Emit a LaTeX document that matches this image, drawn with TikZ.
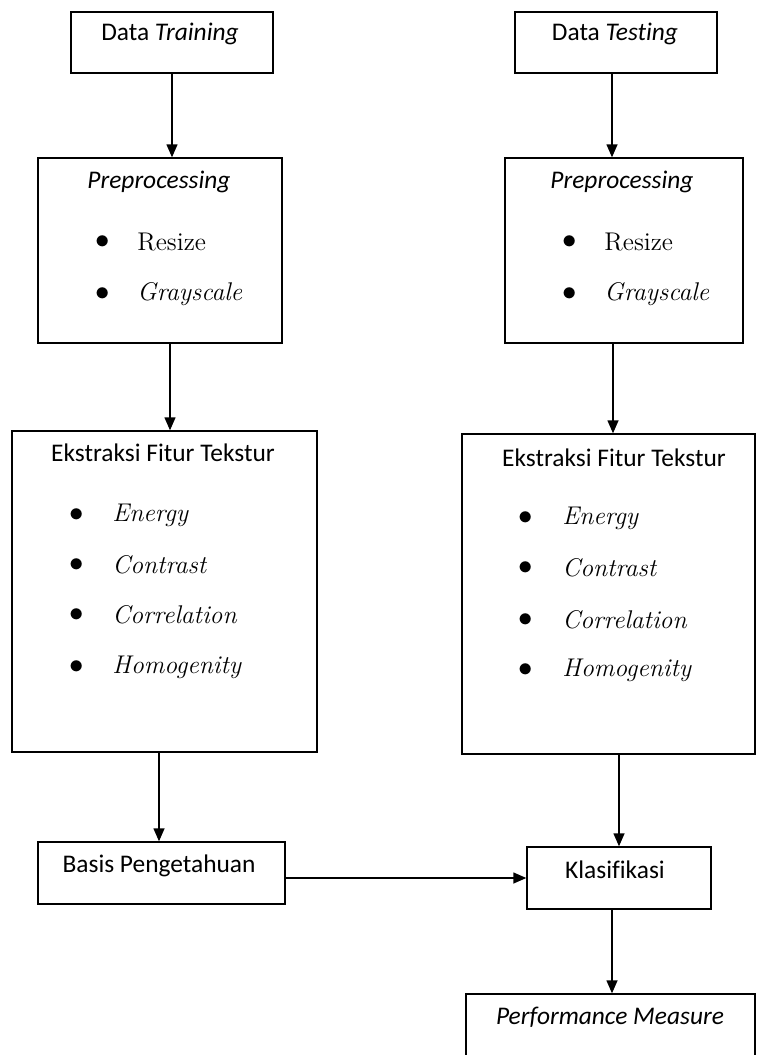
\documentclass[tikz,border=0pt]{standalone}
\usepackage{fontspec}
\newfontfamily\calibri[Ligatures=NoCommon]{Carlito}
\usetikzlibrary{arrows.meta}

\tikzset{
  kotak/.style={draw, rectangle, line width=0.7pt, inner sep=0pt},
  panah/.style={-{Triangle[width=5.5pt,length=6.5pt]}, line width=0.7pt},
  judul/.style={font=\calibri\fontsize{12.7}{15}\selectfont, inner sep=0pt},
  butir/.style={font=\fontsize{12.8}{15}\selectfont, anchor=west, inner sep=0pt},
  titik/.style={font=\fontsize{15}{15}\selectfont, inner sep=0pt}
}

\begin{document}
\begin{tikzpicture}[x=0.5pt, y=-0.5pt]
    \useasboundingbox (0,0) rectangle (756,1055);
    \clip (0,0) rectangle (756,1055);

    % kotak-kotak
    \node[kotak, minimum width=101pt, minimum height=30.5pt] (train) at (172,42.5) {};
    \node[kotak, minimum width=101pt, minimum height=30.5pt] (test) at (616,42.5) {};
    \node[kotak, minimum width=122pt, minimum height=92.5pt] (preL) at (160,250.5) {};
    \node[kotak, minimum width=119pt, minimum height=92.5pt] (preR) at (624,250.5) {};
    \node[kotak, minimum width=152.5pt, minimum height=160.5pt] (extL) at (164.5,591.5) {};
    \node[kotak, minimum width=146.5pt, minimum height=160pt] (extR) at (608.5,594) {};
    \node[kotak, minimum width=123.5pt, minimum height=31pt] (basis) at (161.5,873) {};
    \node[kotak, minimum width=92pt, minimum height=31pt] (klas) at (619,878) {};
    \node[kotak, minimum width=144.5pt, minimum height=48pt] (perf) at (610.5,1042) {};

    % teks
    \node[judul] (tTrain) at (170,34) {Data \textit{Training}};
    \node[judul] (tTest) at (615,34) {Data \textit{Testing}};
    \node[judul] (tPreL) at (159,182) {\textit{Preprocessing}};
    \node[judul] (tPreR) at (622,182) {\textit{Preprocessing}};
    \node[titik] (bPreL1) at (103,242) {$\bullet$};
    \node[butir] (iPreL1) at (137,242) {Resize};
    \node[titik] (bPreL2) at (103,294) {$\bullet$};
    \node[butir] (iPreL2) at (137,294) {\textit{Grayscale}};
    \node[titik] (bPreR1) at (570,242) {$\bullet$};
    \node[butir] (iPreR1) at (604,242) {Resize};
    \node[titik] (bPreR2) at (570,294) {$\bullet$};
    \node[butir] (iPreR2) at (604,294) {\textit{Grayscale}};

    \node[judul] (tExtL) at (163,453) {Ekstraksi Fitur Tekstur};
    \node[titik] (bExtL1) at (77,515) {$\bullet$};
    \node[butir] (iExtL1) at (112,515) {\textit{Energy}};
    \node[titik] (bExtL2) at (77,565) {$\bullet$};
    \node[butir] (iExtL2) at (112,565) {\textit{Contrast}};
    \node[titik] (bExtL3) at (77,615) {$\bullet$};
    \node[butir] (iExtL3) at (112,615) {\textit{Correlation}};
    \node[titik] (bExtL4) at (77,667) {$\bullet$};
    \node[butir] (iExtL4) at (112,667) {\textit{Homogenity}};

    \node[judul] (tExtR) at (614,458) {Ekstraksi Fitur Tekstur};
    \node[titik] (bExtR1) at (526,518) {$\bullet$};
    \node[butir] (iExtR1) at (562,518) {\textit{Energy}};
    \node[titik] (bExtR2) at (526,568) {$\bullet$};
    \node[butir] (iExtR2) at (562,568) {\textit{Contrast}};
    \node[titik] (bExtR3) at (526,620) {$\bullet$};
    \node[butir] (iExtR3) at (562,620) {\textit{Correlation}};
    \node[titik] (bExtR4) at (526,670) {$\bullet$};
    \node[butir] (iExtR4) at (562,670) {\textit{Homogenity}};

    \node[judul] (tBasis) at (159,866) {Basis Pengetahuan};
    \node[judul] (tKlas) at (615,870) {Klasifikasi};
    \node[judul] (tPerf) at (610,1017) {\textit{Performance Measure}};

    % panah
    \draw[panah] (train.south) -- (train.south |- preL.north);
    \draw[panah] ([xshift=-2pt]test.south) -- ([xshift=-2pt]test.south |- preR.north);
    \draw[panah] ([xshift=5pt]preL.south) -- ([xshift=5pt]preL.south |- extL.north);
    \draw[panah] ([xshift=-5.5pt]preR.south) -- ([xshift=-5.5pt]preR.south |- extR.north);
    \draw[panah] ([xshift=-1.25pt]extL.south -| basis.north) -- ([xshift=-1.25pt]basis.north);
    \draw[panah] (extR.south -| klas.north) -- (klas.north);
    \draw[panah] (basis.east |- klas.west) -- (klas.west);
    \draw[panah] ([xshift=0.75pt]klas.south -| perf.north) -- ([xshift=0.75pt]perf.north);
\end{tikzpicture}
\end{document}
